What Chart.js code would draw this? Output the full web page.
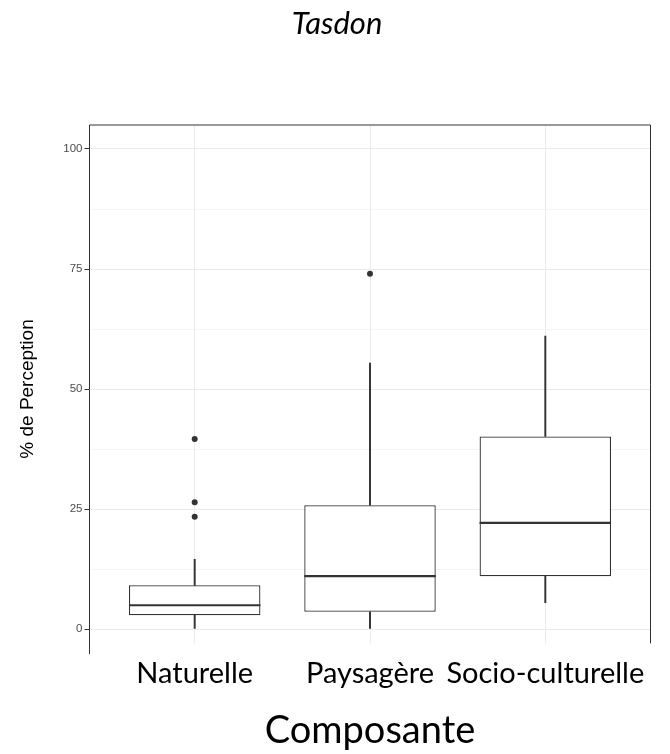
<!DOCTYPE html>
<html><head><meta charset="utf-8">
<script src="https://cdn.jsdelivr.net/npm/chart.js@4.4.0/dist/chart.umd.min.js"></script>
<style>html,body{margin:0;padding:0;background:#fff;}</style>
</head><body>
<canvas id="c" width="670" height="754" style="width:670px;height:754px;display:block"></canvas>
<script>
// ---- data ----
const categories = ['Naturelle', 'Paysagère', 'Socio-culturelle'];
const lowerWhisker = [0, 0, 5.5];
const q1 = [2.85, 3.6, 11.0];
const median = [4.95, 11.0, 22.1];
const q3 = [9.1, 25.8, 40.1];
const upperWhisker = [14.5, 55.4, 61.0];
const outlierCategory = [0, 0, 0, 1];
const outlierValue = [39.6, 26.4, 23.4, 74.0];
const yMajorTicks = [0, 25, 50, 75, 100];
const yMinorTicks = [12.5, 37.5, 62.5, 87.5];
const titleText = 'Tasdon';
const xTitle = 'Composante';
const yTitle = '% de Perception';

const xPos = categories.map((_, i) => i + 1);
const INK = '#333333';

const boxData = xPos.map((x, i) => ({x: x, y: [q1[i], q3[i]]}));
const upperData = xPos.map((x, i) => ({x: x, y: [q3[i], upperWhisker[i]]}));
const lowerData = xPos.map((x, i) => ({x: x, y: [lowerWhisker[i], q1[i]]}));
const outlierData = outlierValue.map((v, i) => ({x: xPos[outlierCategory[i]], y: v}));

const boxPlugin = {
  id: 'boxExtras',
  afterDatasetsDraw(chart) {
    const ctx = chart.ctx;
    const ys = chart.scales.y;
    const meta = chart.getDatasetMeta(0);
    ctx.save();
    // medians
    ctx.strokeStyle = INK;
    ctx.lineWidth = 2.2;
    meta.data.forEach((bar, i) => {
      const p = bar.getProps(['x', 'width'], true);
      const y = ys.getPixelForValue(median[i]);
      ctx.beginPath();
      ctx.moveTo(p.x - p.width / 2, y);
      ctx.lineTo(p.x + p.width / 2, y);
      ctx.stroke();
    });
    // white-out the bottom strip of the panel (as in reference)
    const a = chart.chartArea;
    const cut = ys.getPixelForValue(-3);
    ctx.fillStyle = '#ffffff';
    ctx.fillRect(a.left + 1, cut, a.right - a.left + 4, a.bottom - cut + 2);
    // frame top and right
    ctx.strokeStyle = INK;
    ctx.lineWidth = 1;
    ctx.beginPath();
    ctx.moveTo(a.left, a.top);
    ctx.lineTo(a.right, a.top);
    ctx.lineTo(a.right, cut);
    ctx.stroke();
    ctx.restore();
  },
  afterDraw(chart) {
    const ctx = chart.ctx;
    ctx.save();
    ctx.fillStyle = '#000';
    ctx.font = 'italic 31px Lato';
    ctx.textAlign = 'center';
    ctx.textBaseline = 'alphabetic';
    ctx.fillText(titleText, 337, 34);
    ctx.restore();
  }
};

new Chart(document.getElementById('c'), {
  type: 'bar',
  data: {
    datasets: [
      {label: 'box', data: boxData, backgroundColor: '#ffffff', borderColor: INK, borderWidth: 1.3,
       borderSkipped: false, grouped: false, barPercentage: 0.75, categoryPercentage: 1, order: 1},
      {label: 'upper', data: upperData, backgroundColor: INK, borderWidth: 0, barThickness: 1.3, grouped: false, order: 2},
      {label: 'lower', data: lowerData, backgroundColor: INK, borderWidth: 0, barThickness: 1.3, grouped: false, order: 2},
      {label: 'outliers', type: 'scatter', data: outlierData, backgroundColor: INK, borderColor: INK,
       pointRadius: 3, borderWidth: 0, order: 0}
    ]
  },
  options: {
    responsive: false,
    animation: false,
    devicePixelRatio: 1,
    layout: {padding: {top: 125, right: 19.5, left: 0, bottom: 0}},
    plugins: {legend: {display: false}, tooltip: {enabled: false}, title: {display: false}},
    scales: {
      x: {
        type: 'linear', min: 0.4, max: 3.6, offset: false,
        afterBuildTicks: s => { s.ticks = xPos.map(v => ({value: v})); },
        afterFit: s => { s.height = 101; },
        ticks: {callback: v => categories[Math.round(v) - 1], color: '#000', font: {family: 'Lato', size: 29},
                padding: 3, autoSkip: false, maxRotation: 0, minRotation: 0},
        grid: {color: '#ebebeb', lineWidth: 1, drawTicks: false, offset: false},
        border: {display: false},
        title: {display: true, text: xTitle, color: '#000', font: {family: 'Lato', size: 38}, padding: {top: 0, bottom: 0}}
      },
      y: {
        type: 'linear', min: -5, max: 105,
        afterBuildTicks: s => { s.ticks = [...yMajorTicks, ...yMinorTicks].sort((a, b) => a - b).map(v => ({value: v})); },
        afterFit: s => { s.width = 89.5; },
        ticks: {callback: v => yMajorTicks.includes(v) ? String(v) : '', color: '#4d4d4d',
                font: {family: 'Liberation Sans', size: 11.5}, padding: 2, autoSkip: false},
        grid: {
          color: c => (c.tick && yMajorTicks.includes(c.tick.value)) ? '#ebebeb' : '#f1f1f1',
          lineWidth: c => (c.tick && yMajorTicks.includes(c.tick.value)) ? 1 : 0.7,
          tickColor: c => (c.tick && yMajorTicks.includes(c.tick.value)) ? INK : 'rgba(0,0,0,0)',
          tickLength: 5, tickWidth: 1
        },
        border: {color: INK, width: 1},
        title: {display: true, text: yTitle, color: '#000', font: {family: 'Liberation Sans', size: 19}, padding: {top: 16.5, bottom: 0}}
      }
    }
  },
  plugins: [boxPlugin]
});
</script>
</body></html>
